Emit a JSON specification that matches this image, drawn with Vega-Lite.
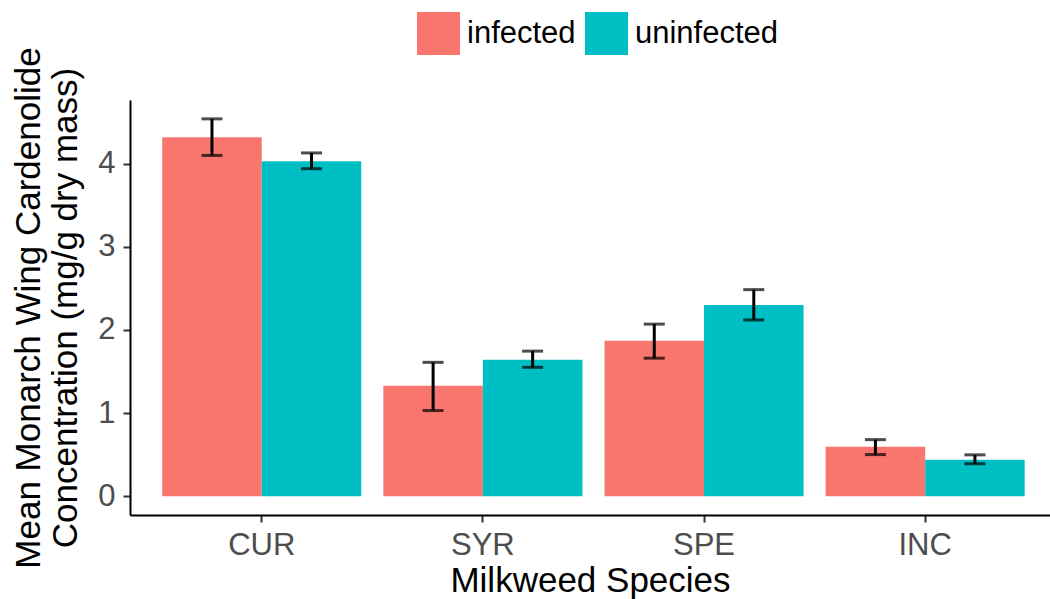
{
  "$schema": "https://vega.github.io/schema/vega-lite/v6.json",
  "autosize": "none",
  "width": 920,
  "height": 415,
  "padding": {"left": 130, "top": 100, "right": 0, "bottom": 84},
  "background": "white",
  "config": {
    "view": {"stroke": null},
    "font": "Liberation Sans",
    "axis": {"grid": false, "domainColor": "black", "domainWidth": 2, "tickColor": "#333333", "tickWidth": 2, "tickSize": 7, "labelColor": "#4d4d4d", "labelFontSize": 31, "titleFontSize": 35, "titleColor": "black", "titleFontWeight": "normal", "labelFont": "Liberation Sans", "titleFont": "Liberation Sans"}
  },
  "data": {
    "values": [
      {"species": "CUR", "infection": "infected", "mean": 4.32, "lo": 4.10, "hi": 4.54},
      {"species": "CUR", "infection": "uninfected", "mean": 4.03, "lo": 3.94, "hi": 4.13},
      {"species": "SYR", "infection": "infected", "mean": 1.327, "lo": 1.03, "hi": 1.61},
      {"species": "SYR", "infection": "uninfected", "mean": 1.64, "lo": 1.55, "hi": 1.745},
      {"species": "SPE", "infection": "infected", "mean": 1.87, "lo": 1.66, "hi": 2.07},
      {"species": "SPE", "infection": "uninfected", "mean": 2.30, "lo": 2.12, "hi": 2.485},
      {"species": "INC", "infection": "infected", "mean": 0.593, "lo": 0.50, "hi": 0.68},
      {"species": "INC", "infection": "uninfected", "mean": 0.437, "lo": 0.39, "hi": 0.497}
    ]
  },
  "encoding": {
    "x": {
      "field": "species", "type": "nominal", "sort": ["CUR", "SYR", "SPE", "INC"],
      "scale": {"paddingInner": 0.1, "paddingOuter": 0.13, "align": 0.56},
      "axis": {"title": "Milkweed Species", "labelAngle": 0, "labelPadding": 8, "titlePadding": 3}
    },
    "xOffset": {"field": "infection", "type": "nominal", "scale": {"domain": ["infected", "uninfected"], "paddingInner": 0, "paddingOuter": 0}}
  },
  "layer": [
    {
      "mark": {"type": "bar"},
      "encoding": {
        "y": {
          "field": "mean", "type": "quantitative",
          "scale": {"domain": [-0.227, 4.767], "nice": false, "zero": false},
          "axis": {"title": ["Mean Monarch Wing Cardenolide", "Concentration (mg/g dry mass)"], "values": [0, 1, 2, 3, 4], "format": "d", "labelPadding": 8, "titlePadding": 14, "titleLineHeight": 37}
        },
        "y2": {"datum": 0},
        "color": {
          "field": "infection", "type": "nominal",
          "scale": {"domain": ["infected", "uninfected"], "range": ["#F8766D", "#00BFC4"]},
          "legend": {"title": null, "orient": "none", "direction": "horizontal", "legendX": 287, "legendY": -88, "symbolType": "square", "symbolSize": 1849, "symbolStrokeWidth": 0, "symbolOpacity": 1, "labelFontSize": 31, "labelColor": "black", "labelFont": "Liberation Sans", "labelOffset": 7, "columnPadding": 9, "labelLimit": 300}
        }
      }
    },
    {
      "mark": {"type": "rule", "color": "black", "strokeWidth": 3},
      "encoding": {"y": {"field": "lo", "type": "quantitative"}, "y2": {"field": "hi"}}
    },
    {
      "mark": {"type": "tick", "color": "black", "thickness": 3, "size": 21, "orient": "horizontal"},
      "encoding": {"y": {"field": "lo", "type": "quantitative"}}
    },
    {
      "mark": {"type": "tick", "color": "black", "thickness": 3, "size": 21, "orient": "horizontal"},
      "encoding": {"y": {"field": "hi", "type": "quantitative"}}
    }
  ]
}
